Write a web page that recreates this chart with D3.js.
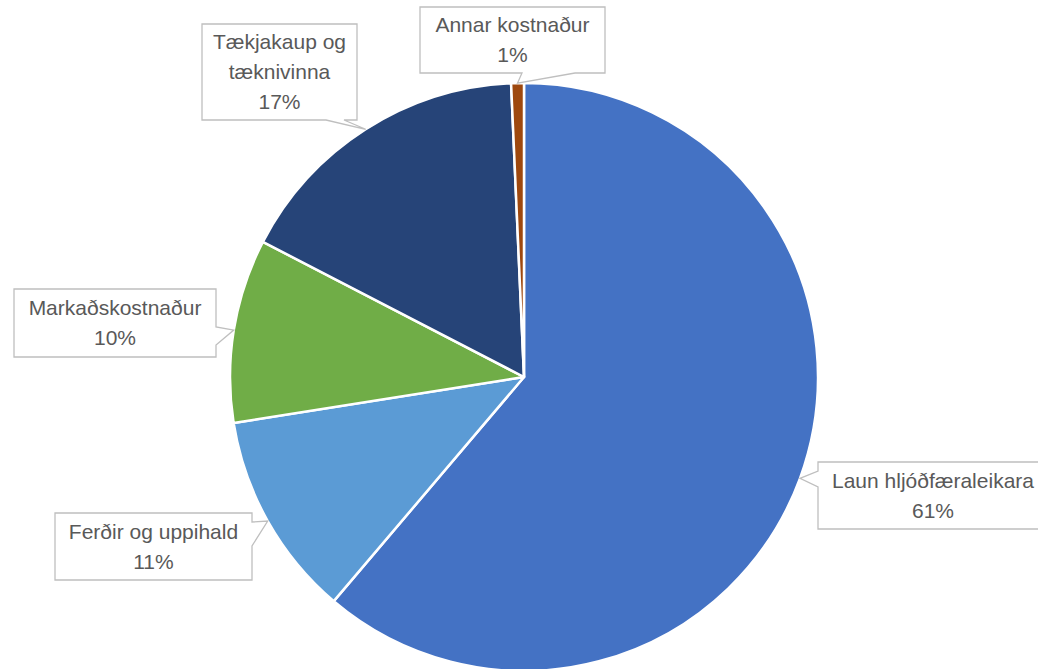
<!DOCTYPE html>
<html>
<head>
<meta charset="utf-8">
<script src="https://cdn.jsdelivr.net/npm/d3@7"></script>
<style>
	body { margin: 0; background: #fff; }
	text { font-family: 'Liberation Sans', Arial, sans-serif; fill: #595959; }
</style>
</head>
<body>
<div id="chart"></div>
<script>
const categories = ['Laun hljóðfæraleikara', 'Ferðir og uppihald', 'Markaðskostnaður', 'Tækjakaup og tæknivinna', 'Annar kostnaður'];
const values = [61.2, 11.3, 10.1, 16.7, 0.7];
const colors = ['#4472C4', '#5B9BD5', '#70AD47', '#264478', '#9E480E'];

// callout boxes: position, size, which side the pointer leaves from and where on that side
const boxes = [
	{ x: 818, y: 462, w: 230, h: 67, side: 'left', a0: 9, a1: 25 },
	{ x: 55, y: 513, w: 197, h: 67, side: 'right', a0: 9, a1: 33 },
	{ x: 14, y: 289, w: 202, h: 68, side: 'right', a0: 38, a1: 56 },
	{ x: 202, y: 24, w: 155, h: 96, side: 'bottom', a0: 124, a1: 142 },
	{ x: 420, y: 7, w: 185, h: 66, side: 'bottom', a0: 102, a1: 155 }
];

const width = 1038, height = 669;
const cx = 524, cy = 377, radius = 294;

const data = categories.map((c, i) => ({ label: c, value: values[i], color: colors[i], box: boxes[i] }));

const svg = d3.select('#chart')
	.append('svg')
	.attr('width', width)
	.attr('height', height);

const pie = d3.pie()
	.sort(null)
	.value((d) => d.value);

const arc = d3.arc()
	.innerRadius(0)
	.outerRadius(radius);

const edge = d3.arc()
	.innerRadius(radius)
	.outerRadius(radius);

const arcs = pie(data);

const g = svg.append('g')
	.attr('transform', `translate(${cx}, ${cy})`);

g.selectAll('path')
	.data(arcs)
	.enter()
	.append('path')
	.attr('d', arc)
	.attr('fill', (d) => d.data.color)
	.attr('stroke', '#fff')
	.attr('stroke-width', 2.5)
	.attr('stroke-linejoin', 'round');

function calloutPath(b, tip) {
	let { x, y, w, h, side, a0, a1 } = b;
	let p = [[x, y], [x + w, y]];
	if (side == 'right') p.push([x + w, y + a0], tip, [x + w, y + a1]);
	p.push([x + w, y + h]);
	if (side == 'bottom') p.push([x + a1, y + h], tip, [x + a0, y + h]);
	p.push([x, y + h]);
	if (side == 'left') p.push([x, y + a1], tip, [x, y + a0]);
	return 'M' + p.map((q) => q.join(',')).join('L') + 'Z';
}

const labels = svg.append('g').attr('class', 'labels');

arcs.forEach((d) => {
	let b = d.data.box;
	let c = edge.centroid(d);
	let tip = [cx + c[0], cy + c[1]];

	labels.append('path')
		.attr('d', calloutPath(b, tip))
		.attr('fill', '#fff')
		.attr('stroke', '#BFBFBF')
		.attr('stroke-width', 1.3);

	let t = labels.append('text')
		.attr('text-anchor', 'middle')
		.style('font-size', '21px');

	// word wrap to the box width
	let words = d.data.label.split(' ');
	let lines = [];
	let line = [];
	let probe = t.append('tspan');
	words.forEach((word) => {
		let test = line.concat(word).join(' ');
		probe.text(test);
		if (probe.node().getComputedTextLength() > b.w - 14 && line.length) {
			lines.push(line.join(' '));
			line = [word];
		} else {
			line.push(word);
		}
	});
	lines.push(line.join(' '));
	probe.remove();
	lines.push(Math.round(d.data.value) + '%');

	let mid = b.y + b.h / 2;
	lines.forEach((s, i) => {
		t.append('tspan')
			.attr('x', b.x + b.w / 2)
			.attr('y', mid + (i - (lines.length - 1) / 2) * 30 + 7)
			.text(s);
	});
});
</script>
</body>
</html>
